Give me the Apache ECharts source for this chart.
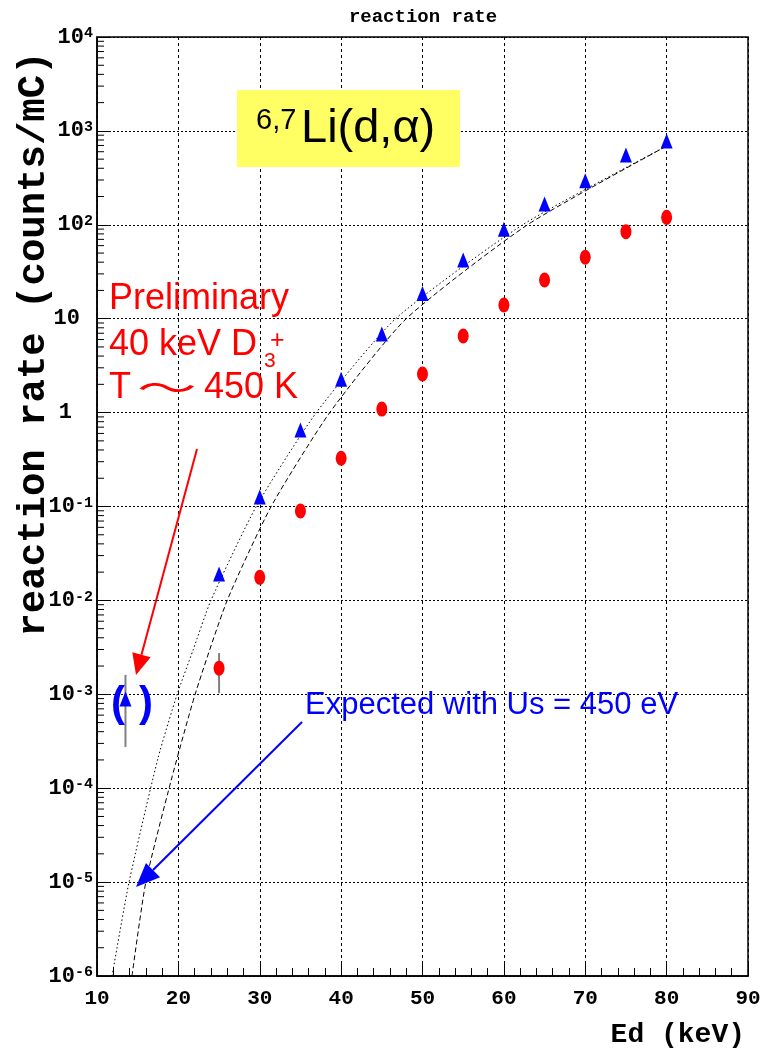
<!DOCTYPE html>
<html>
<head>
<meta charset="utf-8">
<script src="https://cdn.jsdelivr.net/npm/echarts@6/dist/echarts.min.js"></script>
<style>
  html, body { margin: 0; padding: 0; background: #fff; }
  #chart { width: 773px; height: 1051px; }
</style>
</head>
<body>
<div id="chart"></div>
<script>
// ---- dados ----
const energias = [25, 30, 35, 40, 45, 50, 55, 60, 65, 70, 75, 80];
const taxaTriangulos = [0.0191, 0.126, 0.653, 2.26, 6.87, 18.6, 42.2, 89.6, 167, 295, 553, 780];
const taxaCirculos = [0.0019, 0.0176, 0.0895, 0.326, 1.09, 2.58, 6.55, 14.0, 25.8, 45.1, 84.5, 120];

// ponto isolado entre parênteses (E ~ 13.5 keV)
const pontoBaixo = [13.5, 0.00089];

// barras de erro: [x, min, max]
const barrasErro = [
  [13.5, 0.000275, 0.00161],
  [25, 0.00103, 0.00275]
];

const curvaPontilhada = [
  [11.85, 1e-6], [13.94, 1e-5], [17.5, 2.1e-4], [19.85, 1e-3], [21.8, 2.95e-3],
  [24.0, 1e-2], [29.57, 0.1], [36.95, 1], [46.7, 10], [62.3, 100], [80, 690]
];
const curvaTracejada = [
  [14.3, 1e-6], [16.0, 1e-5], [19.1, 1.2e-4], [22.06, 1e-3], [26.0, 1e-2],
  [31.4, 0.1], [38.6, 1], [48.0, 10], [62.9, 100], [80, 690]
];

// marcas menores do eixo log (2..9 em cada década)
const ticksMenores = [];
for (let k = -6; k < 4; k++) {
  for (let m = 2; m <= 9; m++) ticksMenores.push([10, m * Math.pow(10, k)]);
}

const fonteMono = 'Liberation Mono';
const fonteSans = 'Liberation Sans';

// desenha uma seta (linha + ponta) em pixels
function seta(x1, y1, x2, y2, cor, comp, meia) {
  const dx = x2 - x1, dy = y2 - y1;
  const d = Math.sqrt(dx * dx + dy * dy);
  const ux = dx / d, uy = dy / d;
  const bx = x2 - ux * comp, by = y2 - uy * comp;
  const nx = -uy, ny = ux;
  return [
    { type: 'line', shape: { x1: x1, y1: y1, x2: bx, y2: by }, style: { stroke: cor, lineWidth: 2 }, z: 100 },
    { type: 'polygon', shape: { points: [[x2, y2], [bx + nx * meia, by + ny * meia], [bx - nx * meia, by - ny * meia]] }, style: { fill: cor }, z: 100 }
  ];
}

const chartDom = document.getElementById('chart');
const myChart = echarts.init(chartDom);

const option = {
  animation: false,
  backgroundColor: '#fff',
  grid: {
    left: 97, right: 25, top: 37, bottom: 75,
    show: true, borderColor: '#000', borderWidth: 1.5, backgroundColor: 'transparent'
  },
  xAxis: {
    type: 'value',
    min: 10, max: 90, interval: 10,
    axisLine: { show: true, lineStyle: { color: '#000', width: 1.5 } },
    axisTick: { show: true, inside: true, length: 12, lineStyle: { color: '#000', width: 1 } },
    minorTick: { show: true, splitNumber: 5, length: 8, lineStyle: { color: '#000', width: 1 } },
    splitLine: { show: true, lineStyle: { color: '#000', width: 1, type: [3, 3] } },
    axisLabel: { color: '#000', fontFamily: fonteMono, fontWeight: 'bold', fontSize: 21, margin: 12 }
  },
  yAxis: {
    type: 'log',
    logBase: 10,
    min: 1e-6, max: 1e4,
    interval: 1,
    axisLine: { show: true, lineStyle: { color: '#000', width: 1.5 } },
    axisTick: { show: true, inside: true, length: 13, lineStyle: { color: '#000', width: 1 } },
    splitLine: { show: true, lineStyle: { color: '#000', width: 1, type: [2, 2] } },
    axisLabel: {
      margin: 4,
      formatter: function (v) {
        const e = Math.round(Math.log10(v));
        if (e === 0) return '{p1|1}';
        if (e === 1) return '{p10|10}';
        return '{b|10}{s|' + e + '}';
      },
      rich: {
        b: { fontFamily: fonteMono, fontWeight: 'bold', fontSize: 22, lineHeight: 22, color: '#000', verticalAlign: 'bottom' },
        s: { fontFamily: fonteMono, fontWeight: 'bold', fontSize: 15, lineHeight: 15, color: '#000', verticalAlign: 'top', padding: [0, 0, 13, 0] },
        p10: { fontFamily: fonteMono, fontWeight: 'bold', fontSize: 22, lineHeight: 22, color: '#000', padding: [0, 13, 0, 0] },
        p1: { fontFamily: fonteMono, fontWeight: 'bold', fontSize: 22, lineHeight: 22, color: '#000', padding: [0, 21, 0, 0] }
      }
    }
  },
  series: [
    {
      name: 'esperado 1',
      type: 'line',
      data: curvaPontilhada,
      showSymbol: false,
      smooth: 0.2,
      lineStyle: { color: '#000', width: 1, type: [1.5, 2.5] },
      z: 2
    },
    {
      name: 'esperado 2',
      type: 'line',
      data: curvaTracejada,
      showSymbol: false,
      smooth: 0.2,
      lineStyle: { color: '#000', width: 1, type: [5, 3] },
      z: 2
    },
    {
      name: 'erros',
      type: 'custom',
      data: barrasErro,
      encode: { x: 0, y: [1, 2] },
      renderItem: function (params, api) {
        const a = api.coord([api.value(0), api.value(1)]);
        const b = api.coord([api.value(0), api.value(2)]);
        return { type: 'line', shape: { x1: a[0], y1: a[1], x2: b[0], y2: b[1] }, style: { stroke: '#808080', lineWidth: 2 } };
      },
      z: 3
    },
    {
      name: 'ticks menores',
      type: 'custom',
      data: ticksMenores,
      encode: { x: 0, y: 1 },
      silent: true,
      renderItem: function (params, api) {
        const p = api.coord([api.value(0), api.value(1)]);
        return { type: 'line', shape: { x1: p[0], y1: p[1], x2: p[0] + 7, y2: p[1] }, style: { stroke: '#000', lineWidth: 1 } };
      },
      z: 4
    },
    {
      name: 'triangulos',
      type: 'scatter',
      symbol: 'triangle',
      symbolSize: [12, 15],
      itemStyle: { color: '#0000ff', opacity: 1 },
      data: [pontoBaixo].concat(energias.map((e, i) => [e, taxaTriangulos[i]])),
      z: 5
    },
    {
      name: 'circulos',
      type: 'scatter',
      symbol: 'circle',
      symbolSize: [11, 15],
      itemStyle: { color: '#ff0000', opacity: 1 },
      data: energias.map((e, i) => [e, taxaCirculos[i]]),
      z: 5
    }
  ],
  graphic: [
    // título
    { type: 'text', x: 423, y: 17, style: { text: 'reaction rate', fill: '#000', font: 'bold 19px ' + fonteMono, align: 'center', verticalAlign: 'middle' } },
    // título eixo y
    { type: 'text', x: 34, y: 344, rotation: Math.PI / 2, style: { text: 'reaction rate (counts/mC)', fill: '#000', font: 'bold 39px ' + fonteMono, align: 'center', verticalAlign: 'middle' } },
    // título eixo x
    { type: 'text', x: 745, y: 1035, style: { text: 'Ed (keV)', fill: '#000', font: 'bold 28px ' + fonteMono, align: 'right', verticalAlign: 'middle' } },
    // caixa amarela
    { type: 'rect', shape: { x: 237, y: 90, width: 223, height: 77 }, style: { fill: '#ffff63' }, z: 90 },
    { type: 'text', x: 256, y: 121, style: { text: '6,7', fill: '#000', font: '29px ' + fonteSans, align: 'left', verticalAlign: 'middle' }, z: 91 },
    { type: 'text', x: 301, y: 129, style: { text: 'Li(d,α)', fill: '#000', font: '47px ' + fonteSans, align: 'left', verticalAlign: 'middle' }, z: 91 },
    // textos vermelhos
    { type: 'text', x: 109, y: 299, style: { text: 'Preliminary', fill: '#ff0000', font: '36px ' + fonteSans, align: 'left', verticalAlign: 'middle' }, z: 91 },
    { type: 'text', x: 109, y: 345, style: { text: '40 keV D', fill: '#ff0000', font: '36px ' + fonteSans, align: 'left', verticalAlign: 'middle' }, z: 91 },
    { type: 'text', x: 264, y: 361, style: { text: '3', fill: '#ff0000', font: '21px ' + fonteSans, align: 'left', verticalAlign: 'middle' }, z: 91 },
    { type: 'text', x: 270, y: 341, style: { text: '+', fill: '#ff0000', font: '25px ' + fonteSans, align: 'left', verticalAlign: 'middle' }, z: 91 },
    { type: 'text', x: 109, y: 388, style: { text: 'T', fill: '#ff0000', font: '36px ' + fonteSans, align: 'left', verticalAlign: 'middle' }, z: 91 },
    { type: 'text', x: 137, y: 388, scaleX: 1.7, style: { text: '～', fill: '#ff0000', font: '35px "Noto Sans CJK JP"', align: 'left', verticalAlign: 'middle' }, z: 91 },
    { type: 'text', x: 204, y: 388, style: { text: '450 K', fill: '#ff0000', font: '36px ' + fonteSans, align: 'left', verticalAlign: 'middle' }, z: 91 },
    // texto azul
    { type: 'text', x: 305, y: 705, style: { text: 'Expected with Us = 450 eV', fill: '#0000ff', font: '31px ' + fonteSans, align: 'left', verticalAlign: 'middle' }, z: 91 },
    // parênteses em volta do ponto baixo
    { type: 'text', x: 111, y: 704, style: { text: '(', fill: '#0000ff', font: 'bold 42px ' + fonteSans, align: 'left', verticalAlign: 'middle' }, z: 91 },
    { type: 'text', x: 139, y: 704, style: { text: ')', fill: '#0000ff', font: 'bold 42px ' + fonteSans, align: 'left', verticalAlign: 'middle' }, z: 91 }
  ]
    .concat(seta(197, 449, 136, 675, '#ff0000', 21, 9.5))
    .concat(seta(302, 722, 136, 887, '#0000ff', 24, 10))
};

myChart.setOption(option);
</script>
</body>
</html>
